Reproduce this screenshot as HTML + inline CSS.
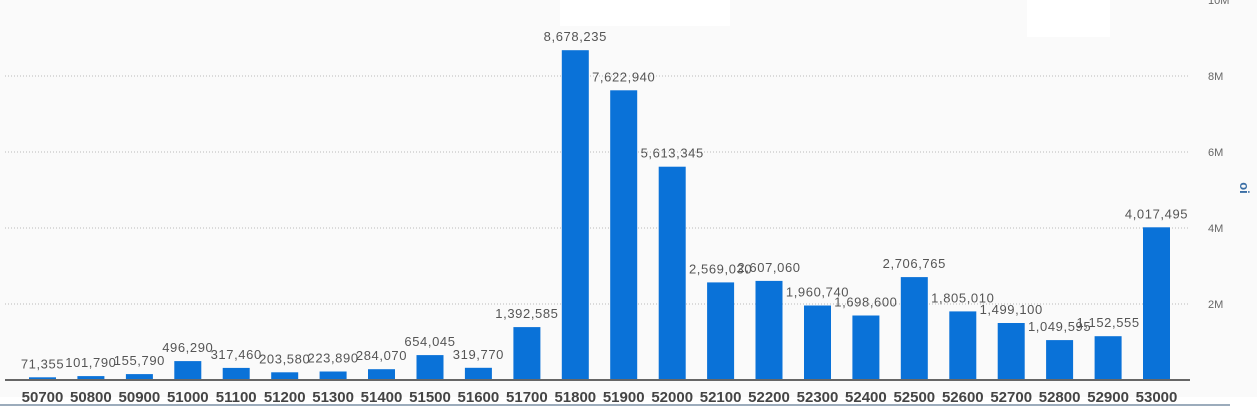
<!DOCTYPE html>
<html><head><meta charset="utf-8"><style>
html,body{margin:0;padding:0;background:#fafafa;}
svg{display:block;font-family:"Liberation Sans","DejaVu Sans",sans-serif;}
.v{font-size:13px;fill:#555;text-anchor:middle;letter-spacing:0.6px}
.c{font-size:15px;font-weight:bold;fill:#444;text-anchor:middle}
.b{fill:#0a72d8}
</style></head><body>
<svg width="1257" height="406" xmlns="http://www.w3.org/2000/svg">
<rect width="1257" height="406" fill="#fafafa"/>
<rect x="560" y="0" width="170" height="26" fill="#ffffff"/>
<rect x="1027" y="0" width="83" height="37" fill="#ffffff"/>
<rect x="0" y="397" width="1257" height="9" fill="#ffffff"/>
<g stroke="#bbb" stroke-dasharray="1,2" stroke-width="1">
<line x1="5" y1="76" x2="1190" y2="76"/>
<line x1="5" y1="152" x2="1190" y2="152"/>
<line x1="5" y1="228" x2="1190" y2="228"/>
<line x1="5" y1="304" x2="1190" y2="304"/>
</g>
<g font-size="11" fill="#666">
<text x="1208" y="4">10M</text>
<text x="1208" y="80">8M</text>
<text x="1208" y="156">6M</text>
<text x="1208" y="232">4M</text>
<text x="1208" y="308">2M</text>
</g>
<text transform="translate(1240,188) rotate(90)" font-size="13" font-weight="bold" fill="#3a6ea5" text-anchor="middle">oi</text>
<g transform="translate(0,-3)">
<text class="v" x="42.5" y="371.3">71,355</text>
<text class="v" x="90.9" y="370.1">101,790</text>
<text class="v" x="139.4" y="368.1">155,790</text>
<text class="v" x="187.8" y="355.1">496,290</text>
<text class="v" x="236.2" y="361.9">317,460</text>
<text class="v" x="284.7" y="366.3">203,580</text>
<text class="v" x="333.1" y="365.5">223,890</text>
<text class="v" x="381.5" y="363.2">284,070</text>
<text class="v" x="430" y="349.1">654,045</text>
<text class="v" x="478.4" y="361.8">319,770</text>
<text class="v" x="526.9" y="321.1">1,392,585</text>
<text class="v" x="575.3" y="44.2">8,678,235</text>
<text class="v" x="623.7" y="84.3">7,622,940</text>
<text class="v" x="672.2" y="160.7">5,613,345</text>
<text class="v" x="720.6" y="276.4">2,569,030</text>
<text class="v" x="769" y="274.9">2,607,060</text>
<text class="v" x="817.5" y="299.5">1,960,740</text>
<text class="v" x="865.9" y="309.5">1,698,600</text>
<text class="v" x="914.3" y="271.1">2,706,765</text>
<text class="v" x="962.8" y="305.4">1,805,010</text>
<text class="v" x="1011.2" y="317">1,499,100</text>
<text class="v" x="1059.6" y="334.1">1,049,595</text>
<text class="v" x="1108.1" y="330.2">1,152,555</text>
<text class="v" x="1156.5" y="221.3">4,017,495</text>
</g>
<rect class="b" x="29" y="377.3" width="27" height="2.7"/><text class="c" x="42.5" y="402">50700</text>
<rect class="b" x="77.4" y="376.1" width="27" height="3.9"/><text class="c" x="90.9" y="402">50800</text>
<rect class="b" x="125.9" y="374.1" width="27" height="5.9"/><text class="c" x="139.4" y="402">50900</text>
<rect class="b" x="174.3" y="361.1" width="27" height="18.9"/><text class="c" x="187.8" y="402">51000</text>
<rect class="b" x="222.7" y="367.9" width="27" height="12.1"/><text class="c" x="236.2" y="402">51100</text>
<rect class="b" x="271.2" y="372.3" width="27" height="7.7"/><text class="c" x="284.7" y="402">51200</text>
<rect class="b" x="319.6" y="371.5" width="27" height="8.5"/><text class="c" x="333.1" y="402">51300</text>
<rect class="b" x="368" y="369.2" width="27" height="10.8"/><text class="c" x="381.5" y="402">51400</text>
<rect class="b" x="416.5" y="355.1" width="27" height="24.9"/><text class="c" x="430" y="402">51500</text>
<rect class="b" x="464.9" y="367.8" width="27" height="12.2"/><text class="c" x="478.4" y="402">51600</text>
<rect class="b" x="513.4" y="327.1" width="27" height="52.9"/><text class="c" x="526.9" y="402">51700</text>
<rect class="b" x="561.8" y="50.2" width="27" height="329.8"/><text class="c" x="575.3" y="402">51800</text>
<rect class="b" x="610.2" y="90.3" width="27" height="289.7"/><text class="c" x="623.7" y="402">51900</text>
<rect class="b" x="658.7" y="166.7" width="27" height="213.3"/><text class="c" x="672.2" y="402">52000</text>
<rect class="b" x="707.1" y="282.4" width="27" height="97.6"/><text class="c" x="720.6" y="402">52100</text>
<rect class="b" x="755.5" y="280.9" width="27" height="99.1"/><text class="c" x="769" y="402">52200</text>
<rect class="b" x="804" y="305.5" width="27" height="74.5"/><text class="c" x="817.5" y="402">52300</text>
<rect class="b" x="852.4" y="315.5" width="27" height="64.5"/><text class="c" x="865.9" y="402">52400</text>
<rect class="b" x="900.8" y="277.1" width="27" height="102.9"/><text class="c" x="914.3" y="402">52500</text>
<rect class="b" x="949.3" y="311.4" width="27" height="68.6"/><text class="c" x="962.8" y="402">52600</text>
<rect class="b" x="997.7" y="323" width="27" height="57"/><text class="c" x="1011.2" y="402">52700</text>
<rect class="b" x="1046.1" y="340.1" width="27" height="39.9"/><text class="c" x="1059.6" y="402">52800</text>
<rect class="b" x="1094.6" y="336.2" width="27" height="43.8"/><text class="c" x="1108.1" y="402">52900</text>
<rect class="b" x="1143" y="227.3" width="27" height="152.7"/><text class="c" x="1156.5" y="402">53000</text>

<line x1="5" y1="380" x2="1190" y2="380" stroke="#666" stroke-width="2"/>
<line x1="0" y1="405" x2="1230" y2="405" stroke="#3a5a7a" stroke-width="1"/>
</svg>
</body></html>
